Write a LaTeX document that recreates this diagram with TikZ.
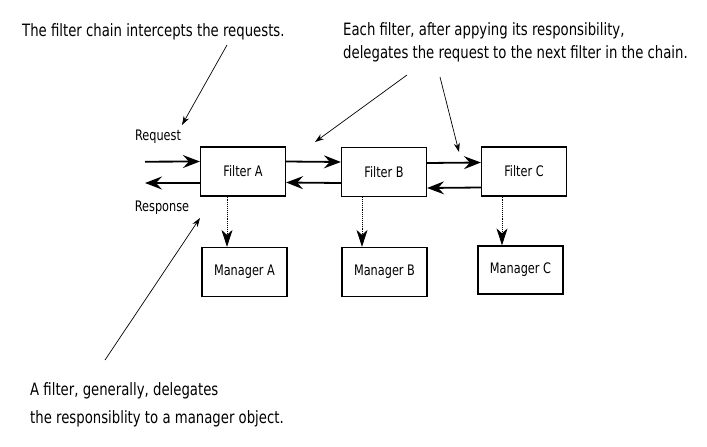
\documentclass[tikz,border=0pt]{standalone}
\usepackage{fontspec}
\setmainfont[FakeStretch=0.78]{DejaVu Sans}
\usepackage{tikz}
\usetikzlibrary{arrows.meta}

\tikzset{
	box/.style={draw,line width=1.2pt,minimum width=85pt,minimum height=49pt,inner sep=0pt,font=\fontsize{14.5}{16}\selectfont},
	note/.style={align=left,inner sep=0pt,font=\fontsize{17}{23}\selectfont},
	flow/.style={-{Stealth[length=17pt,width=13pt,inset=6pt]},line width=1.8pt},
	call/.style={-{Stealth[length=17pt,width=11pt,inset=5pt]},line width=0.9pt,densely dotted},
	hint/.style={-{Stealth[length=9pt,width=6pt]},line width=0.7pt},
}

\begin{document}
\begin{tikzpicture}[x=1pt,y=-1pt]
		\useasboundingbox (0,0) rectangle (707,447);
		\node[box] (A) at (243,171.5) {Filter A};
		\node[box] (B) at (384,172) {Filter B};
		\node[box] (C) at (524,171.5) {Filter C};
		\node[box] (A') at (244.5,272) {Manager A};
		\node[box] (B') at (384.5,272) {Manager B};
		\node[box,minimum height=48pt] (C') at (520.5,270) {Manager C};
		%
		\node[inner sep=0pt,font=\fontsize{14.5}{16}\selectfont] (req) at (158,137) {Request};
		\node[inner sep=0pt,font=\fontsize{14.5}{16}\selectfont] (resp) at (162,208) {Response};
		\coordinate (in) at (145,161.7);
		\coordinate (out) at (145,183);
		%
		\node[note,anchor=west] (n1) at (22,32) {The filter chain intercepts the requests.};
		\node[note,anchor=west] (n2) at (343,42.5) {Each filter, after appying its responsibility,\\delegates the request to the next filter in the chain.};
		\node[note,anchor=west,font=\fontsize{17}{28}\selectfont] (n3) at (30,405) {A filter, generally, delegates\\the responsiblity to a manager object.};
		\coordinate (p1) at (227,45);
		\coordinate (q1) at (182,125);
		\coordinate (p2) at (407,75);
		\coordinate (q2) at (315,142);
		\coordinate (p3) at (440,77);
		\coordinate (q3) at (459,152);
		\coordinate (p4) at (105,360);
		\coordinate (q4) at (200,218);
		%
		% request and response
		\draw[flow] (in) -- ([yshift=10pt]A.west);
		\draw[flow] ([yshift=-11.5pt]A.west) -- (out);
		% horizontal arrows
		\draw[flow] ([yshift=10pt]A.east) -- ([yshift=10pt]B.west);
		\draw[flow] ([yshift=-11pt]B.west) -- ([yshift=-11pt]A.east);
		\draw[flow] ([yshift=9pt]B.east) -- ([yshift=9pt]C.west);
		\draw[flow] ([yshift=-16pt]C.west) -- ([yshift=-16pt]B.east);
		% vertical arrows
		\draw[call] ([xshift=-16pt]A.south) -- ([xshift=-16pt]A.south |- A'.north);
		\draw[call] ([xshift=-22pt]B.south) -- ([xshift=-22pt]B.south |- B'.north);
		\draw[call] ([xshift=-22pt]C.south) -- ([xshift=-22pt]C.south |- C'.north);
		% notes
		\draw[hint] (p1) -- (q1);
		\draw[hint] (p2) -- (q2);
		\draw[hint] (p3) -- (q3);
		\draw[hint] (p4) -- (q4);
		\end{tikzpicture}
\end{document}
